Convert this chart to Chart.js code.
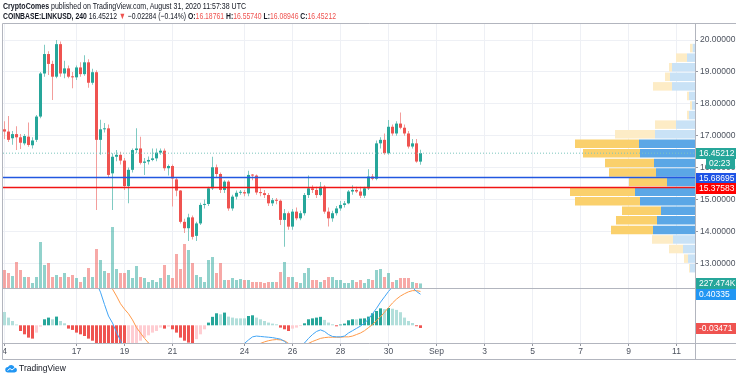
<!DOCTYPE html>
<html><head><meta charset="utf-8">
<script src="https://cdn.jsdelivr.net/npm/chart.js@4.4.1/dist/chart.umd.min.js"></script>
<style>
html,body{margin:0;padding:0;background:#fff;width:736px;height:380px;overflow:hidden;}
#wrap{position:relative;width:736px;height:380px;}
#c{position:absolute;left:0;top:0;}
.t{position:absolute;left:3px;white-space:nowrap;font-family:"Liberation Sans","DejaVu Sans",sans-serif;color:#131722;transform-origin:0 0;}
#h1{top:1px;font-size:9px;}
#h2{top:11px;font-size:9px;}
b{font-weight:bold;}
.r{color:#ef5350;}
#ft{position:absolute;left:5px;top:363px;display:flex;align-items:center;font-family:"Liberation Sans",sans-serif;font-size:8.5px;color:#131722;}
</style></head>
<body><div id="wrap">
<canvas id="c" width="736" height="380"></canvas>
<div class="t" id="h1"><b>CryptoComes</b> published on TradingView.com, August 31, 2020 11:57:38 UTC</div>
<div class="t" id="h2"><b>COINBASE:LINKUSD, 240</b> 16.45212 <span class="r">▼</span> −0.02284 (−0.14%) <b>O:</b><span class="r">16.18761</span> <b>H:</b><span class="r">16.55740</span> <b>L:</b><span class="r">16.08946</span> <b>C:</b><span class="r">16.45212</span></div>
<div id="ft"><svg width="12" height="10" viewBox="0 0 24 20"><path d="M6 19h13a5 5 0 0 0 0-10 7 7 0 0 0-13-1A5.5 5.5 0 0 0 6 19z" fill="#2196f3"/><path d="M5 15l5-4 4 3 6-5" stroke="#fff" stroke-width="2" fill="none"/></svg><span style="margin-left:2px">TradingView</span></div>
</div>
<script>
// ---------- DATA ----------
const OPEN = [17.20,17.13,16.92,17.05,16.95,16.76,16.97,16.70,16.87,17.60,
18.95,19.56,19.25,18.85,19.87,18.95,19.11,18.85,18.83,19.14,
18.93,19.30,18.66,18.99,16.87,17.20,17.23,15.82,16.34,16.40,
16.22,15.42,15.93,16.55,16.60,16.15,16.19,16.24,16.29,16.47,
16.53,15.98,16.05,15.63,15.28,14.30,14.10,14.44,13.86,14.25,
14.83,14.86,15.35,16.01,15.80,15.30,15.56,14.72,15.09,15.21,
15.23,15.19,15.77,15.75,15.22,15.20,15.14,14.88,14.98,14.96,
14.36,14.57,14.15,14.62,14.41,14.57,15.14,15.35,15.30,15.14,
15.40,14.62,14.41,14.57,14.72,14.83,14.88,15.25,15.30,15.25,
15.12,15.35,15.72,15.65,16.76,16.87,16.45,17.28,17.07,17.38,
17.25,17.07,16.66,16.76,16.18761];
const HIGH = [17.45,17.62,17.15,17.30,17.05,17.05,17.41,16.95,17.65,19.00,
19.85,19.65,19.35,20.00,19.95,19.35,19.20,19.00,19.20,19.30,
19.52,19.40,19.10,19.05,17.50,17.40,17.35,16.45,16.55,16.50,
16.30,16.00,16.60,17.23,16.97,16.30,16.35,16.60,16.60,16.60,
16.60,16.10,16.10,15.70,15.30,14.40,14.55,14.50,14.30,14.90,
15.00,15.40,16.34,16.10,15.85,15.60,15.60,15.15,15.28,15.30,
15.30,15.90,15.80,15.78,15.35,15.30,15.20,15.05,15.05,15.00,
14.70,14.62,14.70,14.75,14.65,15.20,15.75,15.45,15.40,15.55,
15.45,14.75,14.65,14.80,14.95,14.95,15.30,15.45,15.40,15.40,
15.40,15.95,15.80,16.85,16.95,17.07,17.49,17.35,17.45,17.73,
17.35,17.15,16.90,16.90,16.5574];
const LOW = [16.90,16.80,16.72,16.55,16.58,16.70,16.65,16.60,16.80,17.55,
18.85,18.90,18.12,18.80,18.85,18.80,18.80,18.49,18.75,18.85,
18.88,18.50,18.60,14.67,16.40,17.10,15.70,14.67,16.20,16.10,
15.30,14.88,15.85,16.45,16.10,15.77,16.10,16.20,16.20,16.40,
15.90,15.75,14.78,15.10,14.25,13.95,13.70,13.75,13.70,14.20,
14.72,14.80,15.30,15.70,15.20,15.20,14.65,14.65,15.00,15.15,
15.10,15.10,15.60,15.15,15.10,15.05,14.80,14.80,14.85,14.20,
13.52,14.05,14.05,14.35,14.35,14.50,15.05,15.20,15.05,15.10,
14.55,14.15,14.30,14.50,14.65,14.75,14.85,15.15,15.20,15.05,
15.05,15.30,15.60,15.60,16.60,16.40,16.40,17.00,17.00,17.20,
17.00,16.60,16.60,16.15,16.08946];
const CLOSE = [17.13,16.87,17.05,16.95,16.78,16.99,16.71,16.85,17.60,18.95,
19.56,19.25,18.85,19.87,18.95,19.11,18.85,18.83,19.14,18.93,
19.30,18.66,18.99,16.87,17.20,17.23,15.77,16.34,16.40,16.22,
15.42,15.93,16.55,16.60,16.15,16.19,16.24,16.29,16.47,16.53,
15.98,16.05,15.66,15.28,14.30,14.10,14.44,13.83,14.25,14.83,
14.86,15.35,16.01,15.80,15.30,15.56,14.72,15.09,15.21,15.23,
15.19,15.77,15.75,15.22,15.20,15.14,14.88,14.98,14.96,14.36,
14.57,14.15,14.62,14.41,14.57,15.14,15.35,15.30,15.14,15.40,
14.62,14.41,14.57,14.72,14.83,14.88,15.25,15.30,15.25,15.12,
15.35,15.72,15.65,16.76,16.87,16.45,17.28,17.07,17.38,17.25,
17.07,16.66,16.76,16.19,16.45212];
// volume, thousands
const VOLUME = [900,750,600,1300,900,550,550,250,550,2300,
1150,1250,550,650,550,750,550,650,500,300,
550,1000,550,1950,1400,850,750,3050,950,750,
750,900,500,1100,550,500,300,400,300,500,
1150,650,500,1700,950,2200,1900,1250,650,550,
300,1400,1550,750,1250,400,400,500,400,450,
400,400,300,300,300,250,300,300,300,800,
1300,550,550,300,250,750,1000,400,400,300,
400,550,550,400,400,250,250,400,300,400,
250,450,400,900,950,550,750,300,400,500,
500,500,300,250,227.474];
const MACD_HIST = [0.173,0.10,0.056,0.01,-0.074,-0.117,-0.16,-0.173,-0.095,-0.017,
0.078,0.10,0.078,0.113,0.056,0.026,-0.043,-0.06,-0.095,-0.117,
-0.139,-0.173,-0.20,-0.25,-0.28,-0.30,-0.33,-0.34,-0.35,-0.36,
-0.37,-0.33,-0.30,-0.27,-0.20,-0.16,-0.13,-0.095,-0.074,-0.03,
-0.043,-0.017,-0.052,-0.095,-0.16,-0.20,-0.225,-0.23,-0.18,-0.117,
-0.052,0.035,0.11,0.156,0.143,0.165,0.113,0.10,0.09,0.09,
0.09,0.121,0.13,0.10,0.078,0.056,0.035,0.022,0.013,-0.03,
-0.052,-0.074,-0.043,-0.03,-0.01,0.026,0.078,0.09,0.10,0.11,
0.07,0.035,0.013,-0.013,0.01,0.022,0.065,0.078,0.078,0.087,
0.09,0.113,0.156,0.186,0.22,0.21,0.225,0.215,0.20,0.17,
0.10,0.056,0.03,-0.012,-0.03471];
const MACD_LINE = [0.70,0.70,0.69,0.68,0.63,0.60,0.57,0.55,0.60,0.78,
0.93,1.00,1.00,1.10,1.06,1.03,0.98,0.94,0.90,0.86,
0.83,0.77,0.70,0.55,0.43,0.27,0.12,0.03,-0.09,-0.20,
-0.30,-0.36,-0.38,-0.40,-0.42,-0.44,-0.45,-0.46,-0.46,-0.46,
-0.48,-0.49,-0.51,-0.54,-0.60,-0.65,-0.66,-0.70,-0.69,-0.64,
-0.58,-0.52,-0.44,-0.38,-0.35,-0.31,-0.31,-0.29,-0.27,-0.25,
-0.235,-0.19,-0.15,-0.14,-0.145,-0.15,-0.155,-0.16,-0.17,-0.18,
-0.21,-0.25,-0.26,-0.27,-0.26,-0.23,-0.17,-0.12,-0.08,-0.06,
-0.08,-0.12,-0.145,-0.15,-0.15,-0.14,-0.10,-0.07,-0.04,-0.01,
0.03,0.08,0.15,0.22,0.30,0.37,0.44,0.50,0.54,0.56,
0.55,0.52,0.49,0.44,0.40335];
const SIGNAL_LINE = [0.60,0.62,0.64,0.66,0.68,0.70,0.71,0.72,0.72,0.73,
0.76,0.80,0.84,0.88,0.92,0.95,0.97,0.98,0.98,0.97,
0.96,0.94,0.91,0.86,0.78,0.66,0.55,0.47,0.38,0.28,
0.21,0.15,0.07,-0.03,-0.10,-0.17,-0.23,-0.27,-0.30,-0.33,
-0.35,-0.37,-0.39,-0.41,-0.44,-0.47,-0.49,-0.51,-0.52,-0.52,
-0.51,-0.49,-0.47,-0.45,-0.43,-0.41,-0.39,-0.37,-0.35,-0.33,
-0.31,-0.29,-0.27,-0.25,-0.235,-0.215,-0.20,-0.19,-0.185,-0.19,
-0.20,-0.235,-0.245,-0.255,-0.26,-0.25,-0.235,-0.21,-0.19,-0.17,
-0.16,-0.155,-0.155,-0.155,-0.155,-0.15,-0.15,-0.14,-0.12,-0.10,
-0.07,-0.03,0.01,0.06,0.11,0.17,0.23,0.29,0.34,0.38,
0.41,0.435,0.45,0.45,0.44];
// volume profile rows (price centre, up volume, down volume, in value area)
const PROFILE_PRICE = [19.88,19.58,19.28,18.98,18.68,18.38,18.08,17.78,17.48,17.18,16.88,16.58,
16.28,15.98,15.68,15.38,15.08,14.78,14.48,14.18,13.88,13.58,13.28,12.98];
const PROFILE_UP = [23,80,230,250,230,60,30,60,190,400,560,550,410,390,280,600,550,340,380,420,220,120,70,50];
const PROFILE_DOWN = [27,110,30,50,190,20,20,20,210,400,640,570,490,470,380,650,650,390,410,420,210,140,40,10];
const PROFILE_VA = [0,0,0,0,0,0,0,0,0,0,1,1,1,1,1,1,1,1,1,1,0,0,0,0];
const LEVEL_BLUE = 15.68695;
const LEVEL_RED = 15.37583;
const COUNTDOWN = "02:23";
// axis labels
const DATE_POS = [0,18,30,42,60,72,84,96,108,120,132,144,156,168];
const DATE_LABELS = ["4","17","19","21","24","26","28","30","Sep","3","5","7","9","11"];
const PRICE_TICKS = [13,14,15,16,17,18,19,20];

// ---------- STYLE ----------
const FONT = "'Liberation Sans','DejaVu Sans',sans-serif";
const UP = '#26a69a', DOWN = '#ef5350';
const UP_WICK = '#7fcac2', DOWN_WICK = '#f39d9b';
const GRID = '#eef0f5', FRAME = '#b2b5be', TXT = '#4c525e';
const X_MIN = -0.375, X_MAX = 172.625;
const P_MIN = 10.5016, P_MAX = 20.5016;
const V_MIN = -2750, V_MAX = 13200;
const M_MIN = -0.2299, M_MAX = 3.913;
const XP_MAX = 6920;

const N = CLOSE.length;
const idx = CLOSE.map((_, i) => i);
const isUp = i => CLOSE[i] >= OPEN[i];
const histColor = i => {
  const h = MACD_HIST[i], p = i > 0 ? MACD_HIST[i - 1] : h;
  return h >= 0 ? (p < h ? '#26a69a' : '#b2dfdb') : (p < h ? '#ffcdd2' : '#ef5350');
};

Chart.defaults.font.family = FONT;
Chart.defaults.font.size = 8.5;

const tagPlugin = {
  id: 'tags',
  afterDraw(chart) {
    const c = chart.ctx, a = chart.chartArea;
    const y = chart.scales.y, yv = chart.scales.yv, ym = chart.scales.ym;
    c.save();
    c.strokeStyle = FRAME; c.lineWidth = 1;
    const L = (x1, y1, x2, y2) => { c.beginPath(); c.moveTo(x1, y1); c.lineTo(x2, y2); c.stroke(); };
    L(2.5, a.top - 0.5, 736, a.top - 0.5);
    L(2.5, a.top - 0.5, 2.5, 359.5);
    L(2.5, 288.5, 736, 288.5);
    L(2.5, a.bottom + 0.5, 736, a.bottom + 0.5);
    L(2.5, 359.5, 736, 359.5);
    L(a.right + 0.5, a.top - 0.5, a.right + 0.5, 359.5);
    const tag = (py, text, bg, x0 = a.right + 1, x1 = 736) => {
      c.fillStyle = bg; c.fillRect(x0, Math.round(py) - 5, x1 - x0, 11);
      c.fillStyle = '#fff'; c.font = '8.5px ' + FONT; c.textBaseline = 'middle'; c.textAlign = 'left';
      c.fillText(text, x0 + 3, Math.round(py) + 0.5);
    };
    const last = N - 1;
    tag(y.getPixelForValue(CLOSE[last]), CLOSE[last].toFixed(5), UP);
    tag(y.getPixelForValue(CLOSE[last]) + 10, COUNTDOWN, UP, a.right + 11, 735);
    tag(y.getPixelForValue(LEVEL_BLUE), LEVEL_BLUE.toFixed(5), '#1e53e5');
    tag(y.getPixelForValue(LEVEL_RED), LEVEL_RED.toFixed(5), '#ff0000');
    tag(yv.getPixelForValue(VOLUME[last]) - 0.5, VOLUME[last].toFixed(3) + 'K', UP);
    tag(ym.getPixelForValue(MACD_LINE[last]), MACD_LINE[last].toFixed(5), '#2196f3');
    tag(ym.getPixelForValue(MACD_HIST[last]), MACD_HIST[last].toFixed(5), DOWN);
    c.restore();
  }
};

const macdClip = { left: 0, right: 0, top: -(288.5 - 24), bottom: 0 };

new Chart(document.getElementById('c'), {
  type: 'bar',
  data: {
    datasets: [
      { type: 'line', data: [{ x: X_MIN, y: LEVEL_BLUE }, { x: X_MAX, y: LEVEL_BLUE }], borderColor: '#2257e0', backgroundColor: '#2257e0', borderWidth: 1.5, pointRadius: 0, xAxisID: 'x', yAxisID: 'y' },
      { type: 'line', data: [{ x: X_MIN, y: LEVEL_RED }, { x: X_MAX, y: LEVEL_RED }], borderColor: '#f01414', backgroundColor: '#f01414', borderWidth: 1.5, pointRadius: 0, xAxisID: 'x', yAxisID: 'y' },
      { type: 'line', data: [{ x: X_MIN, y: CLOSE[N - 1] }, { x: X_MAX, y: CLOSE[N - 1] }], borderColor: '#7cc5bd', borderWidth: 1, borderDash: [1, 2], pointRadius: 0, xAxisID: 'x', yAxisID: 'y' },
      { type: 'line', data: idx.map(i => ({ x: i, y: MACD_LINE[i] })), borderColor: '#42a5f5', borderWidth: 1, pointRadius: 0, tension: 0, xAxisID: 'x', yAxisID: 'ym', clip: macdClip },
      { type: 'line', data: idx.map(i => ({ x: i, y: SIGNAL_LINE[i] })), borderColor: '#ff9a4a', borderWidth: 1, pointRadius: 0, tension: 0, xAxisID: 'x', yAxisID: 'ym', clip: macdClip },
      { data: idx.map(i => ({ x: i, y: [OPEN[i], CLOSE[i]] })), backgroundColor: c => isUp(c.dataIndex) ? UP : DOWN, grouped: false, maxBarThickness: 3, categoryPercentage: 1, barPercentage: 1, inflateAmount: 0, minBarLength: 1, xAxisID: 'x', yAxisID: 'y' },
      { data: idx.map(i => ({ x: i, y: [LOW[i], HIGH[i]] })), backgroundColor: c => isUp(c.dataIndex) ? UP_WICK : DOWN_WICK, grouped: false, maxBarThickness: 1, categoryPercentage: 1, barPercentage: 1, inflateAmount: 0, xAxisID: 'x', yAxisID: 'y' },
      { data: idx.map(i => ({ x: i, y: VOLUME[i] })), backgroundColor: c => isUp(c.dataIndex) ? 'rgba(38,166,154,0.5)' : 'rgba(239,83,80,0.5)', grouped: false, maxBarThickness: 3, categoryPercentage: 1, barPercentage: 1, inflateAmount: 0, xAxisID: 'x', yAxisID: 'yv' },
      { data: idx.map(i => ({ x: i, y: MACD_HIST[i] })), backgroundColor: c => histColor(c.dataIndex), grouped: false, maxBarThickness: 3, categoryPercentage: 1, barPercentage: 1, inflateAmount: 0, xAxisID: 'x', yAxisID: 'ym' },
      { indexAxis: 'y', stack: 'vp', data: PROFILE_PRICE.map((p, i) => ({ x: PROFILE_UP[i], y: p })), backgroundColor: c => PROFILE_VA[c.dataIndex] ? '#5ba7e6' : '#c9e2f6', barThickness: 8.5, inflateAmount: 0, xAxisID: 'xp', yAxisID: 'y' },
      { indexAxis: 'y', stack: 'vp', data: PROFILE_PRICE.map((p, i) => ({ x: PROFILE_DOWN[i], y: p })), backgroundColor: c => PROFILE_VA[c.dataIndex] ? '#fad06c' : '#fdecc6', barThickness: 8.5, inflateAmount: 0, xAxisID: 'xp', yAxisID: 'y' }
    ]
  },
  options: {
    responsive: false, animation: false, devicePixelRatio: 1,
    layout: { padding: { left: 3, top: 24, right: 0, bottom: 21 } },
    plugins: { legend: { display: false }, tooltip: { enabled: false } },
    scales: {
      x: {
        type: 'linear', min: X_MIN, max: X_MAX, position: 'bottom', offset: false,
        grid: { color: GRID, tickLength: 3, tickColor: '#9598a1', offset: false },
        border: { display: false },
        ticks: { autoSkip: false, maxRotation: 0, padding: 1, color: TXT, font: { size: 8.5 }, callback: (v, i) => DATE_LABELS[i] },
        afterBuildTicks: s => { s.ticks = DATE_POS.map(v => ({ value: v })); },
        afterFit: s => { s.height = 16; }
      },
      y: {
        type: 'linear', position: 'right', min: P_MIN, max: P_MAX, offset: false,
        grid: { color: GRID, tickLength: 3, tickColor: '#9598a1', offset: false },
        border: { display: false },
        ticks: { padding: 2, color: TXT, font: { size: 8.5 }, callback: v => Number(v).toFixed(5) },
        afterBuildTicks: s => { s.ticks = PRICE_TICKS.map(v => ({ value: v })); },
        afterFit: s => { s.width = 41; }
      },
      yv: { type: 'linear', axis: 'y', display: false, offset: false, min: V_MIN, max: V_MAX },
      ym: { type: 'linear', axis: 'y', display: false, offset: false, min: M_MIN, max: M_MAX },
      xp: { type: 'linear', axis: 'x', display: false, offset: false, reverse: true, min: 0, max: XP_MAX }
    }
  },
  plugins: [tagPlugin]
});

// fit header lines to the reference widths
[['h1', 243], ['h2', 333]].forEach(([id, w]) => {
  const el = document.getElementById(id);
  const cw = el.getBoundingClientRect().width;
  if (cw > 0) el.style.transform = 'scaleX(' + (w / cw) + ')';
});
</script>
</body></html>
